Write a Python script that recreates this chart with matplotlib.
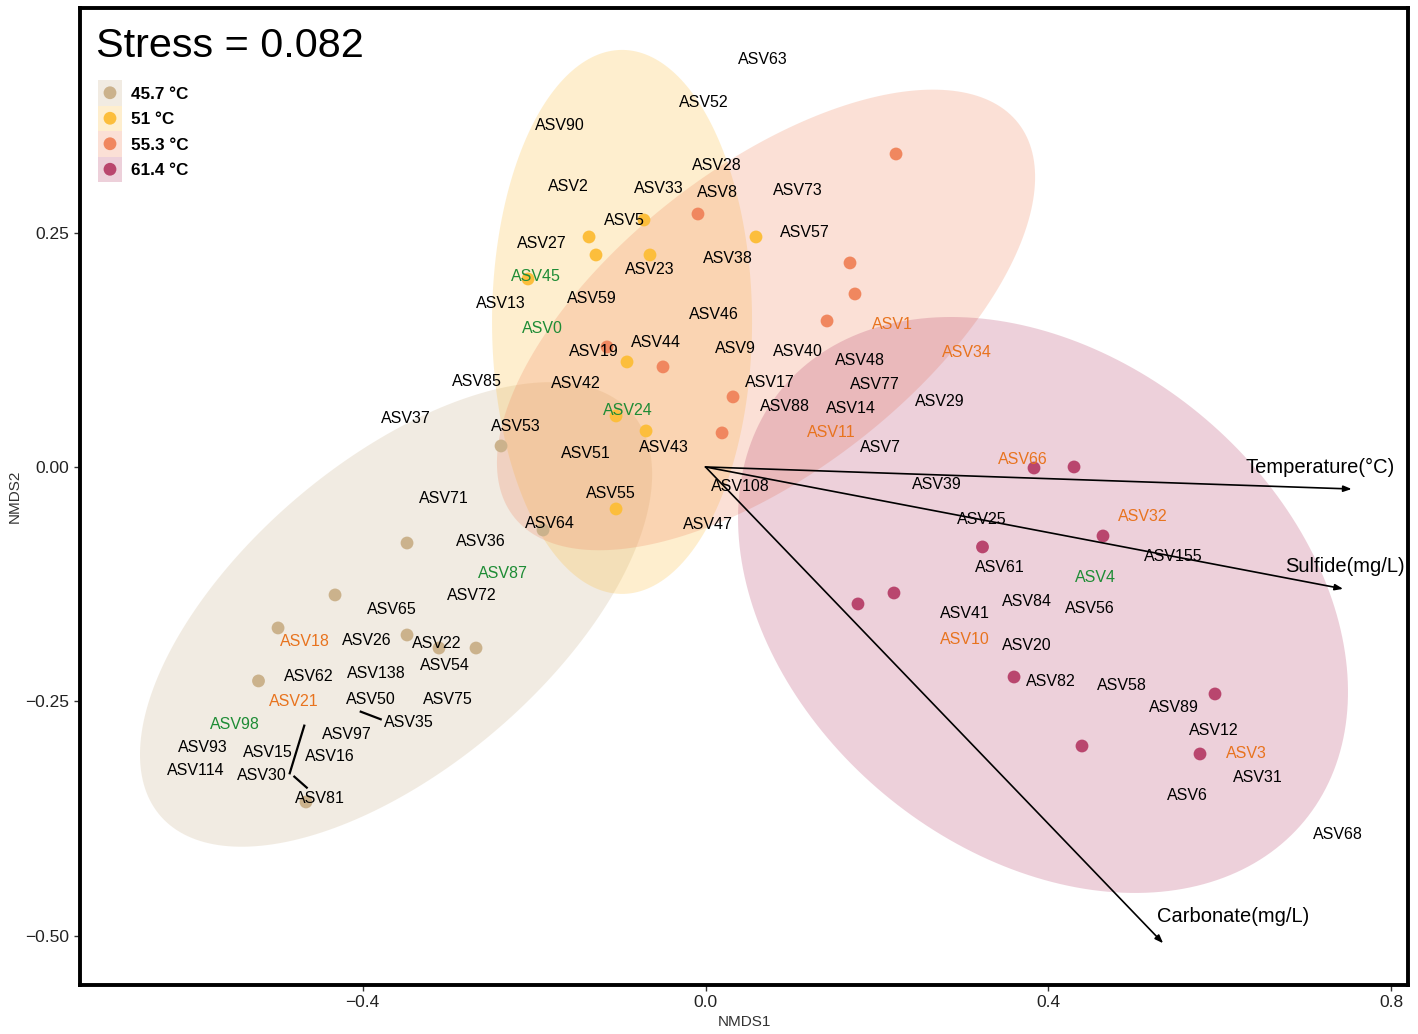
import numpy as np
import matplotlib
matplotlib.use("Agg")
import matplotlib.pyplot as plt
from matplotlib.patches import Rectangle, Polygon

plt.rcParams['font.family'] = ['Liberation Sans', 'DejaVu Sans']

# groups (temperature) and colours
groups = ['45.7 °C', '51 °C', '55.3 °C', '61.4 °C']
group_colours = ['#CBB28C', '#FCBE3C', '#F0875F', '#B9466E']

# sample scores
x_457 = [-0.2386, -0.1896, -0.3483, -0.4323, -0.4988, -0.3483, -0.3110, -0.2678, -0.5216, -0.4662]
y_457 = [0.0224, -0.0672, -0.0811, -0.1365, -0.1717, -0.1792, -0.1931, -0.1931, -0.2282, -0.3573]
x_51 = [-0.0718, -0.1359, -0.1278, -0.0648, 0.0589, -0.2071, -0.0916, -0.1044, -0.0694, -0.1044]
y_51 = [0.2634, 0.2453, 0.2261, 0.2261, 0.2453, 0.2005, 0.1120, 0.0544, 0.0384, -0.0448]
x_553 = [-0.0088, 0.1686, 0.1744, 0.1418, 0.2223, -0.1149, -0.0496, 0.0321, 0.0193]
y_553 = [0.2698, 0.2176, 0.1845, 0.1557, 0.3338, 0.1280, 0.1067, 0.0747, 0.0363]
x_614 = [0.3833, 0.4300, 0.4638, 0.3232, 0.1779, 0.2199, 0.3600, 0.5945, 0.4393, 0.5770]
y_614 = [-0.0011, 0.0000, -0.0736, -0.0853, -0.1461, -0.1344, -0.2240, -0.2421, -0.2976, -0.3061]

# ellipse centres and semi-axis vectors (data units)
ell_centre = [(-0.3611, -0.1573), (-0.0974, 0.1547), (0.0706, 0.1568), (0.3938, -0.1472)]
ell_axis_a = [(0.2755, 0.2143), (0.0, 0.2901), (0.2945, 0.2097), (0.3048, -0.2305)]
ell_axis_b = [(0.1157, -0.1243), (0.1517, 0.0), (0.1089, -0.1279), (-0.1837, -0.2030)]

# species labels: k = black, o = orange, g = green
asv_names = ['ASV63', 'ASV52', 'ASV90', 'ASV28', 'ASV2', 'ASV33', 'ASV8', 'ASV73', 'ASV5', 'ASV57',
             'ASV27', 'ASV38', 'ASV23', 'ASV45', 'ASV13', 'ASV59', 'ASV46', 'ASV0', 'ASV1', 'ASV44',
             'ASV19', 'ASV9', 'ASV40', 'ASV34', 'ASV48', 'ASV85', 'ASV42', 'ASV17', 'ASV77', 'ASV29',
             'ASV88', 'ASV14', 'ASV24', 'ASV37', 'ASV53', 'ASV11', 'ASV51', 'ASV43', 'ASV7', 'ASV66',
             'ASV39', 'ASV108', 'ASV55', 'ASV71', 'ASV25', 'ASV32', 'ASV47', 'ASV64', 'ASV36', 'ASV155',
             'ASV61', 'ASV87', 'ASV4', 'ASV72', 'ASV84', 'ASV56', 'ASV65', 'ASV41', 'ASV18', 'ASV26',
             'ASV22', 'ASV10', 'ASV20', 'ASV54', 'ASV62', 'ASV138', 'ASV82', 'ASV58', 'ASV21', 'ASV50',
             'ASV75', 'ASV89', 'ASV35', 'ASV98', 'ASV97', 'ASV12', 'ASV93', 'ASV15', 'ASV16', 'ASV3',
             'ASV114', 'ASV30', 'ASV31', 'ASV81', 'ASV6', 'ASV68']
asv_x = [0.0671, -0.0018, -0.1698, 0.0134, -0.1604, -0.0543, 0.0134, 0.1079, -0.0951, 0.1161,
         -0.1908, 0.0263, -0.0648, -0.1978, -0.2386, -0.1324, 0.0099, -0.1908, 0.2176, -0.0578,
         -0.1301, 0.0344, 0.1079, 0.3051, 0.1803, -0.2666, -0.1511, 0.0753, 0.1978, 0.2736,
         0.0928, 0.1698, -0.0904, -0.3495, -0.2211, 0.1470, -0.1394, -0.0484, 0.2036, 0.3705,
         0.2701, 0.0403, -0.1103, -0.3051, 0.3226, 0.5105, 0.0029, -0.1814, -0.2620, 0.5455,
         0.3436, -0.2363, 0.4545, -0.2725, 0.3751, 0.4486, -0.3658, 0.3028, -0.4673, -0.3950,
         -0.3133, 0.3028, 0.3751, -0.3040, -0.4627, -0.3845, 0.4031, 0.4860, -0.4802, -0.3903,
         -0.3005, 0.5461, -0.3460, -0.5490, -0.4183, 0.5934, -0.5864, -0.5105, -0.4382, 0.6307,
         -0.5945, -0.5175, 0.6447, -0.4498, 0.5619, 0.7380]
asv_y = [0.4362, 0.3904, 0.3658, 0.3232, 0.3008, 0.2986, 0.2938, 0.2965, 0.2645, 0.2517,
         0.2400, 0.2240, 0.2122, 0.2048, 0.1760, 0.1813, 0.1643, 0.1493, 0.1536, 0.1344,
         0.1248, 0.1280, 0.1248, 0.1237, 0.1152, 0.0928, 0.0907, 0.0917, 0.0896, 0.0715,
         0.0661, 0.0640, 0.0619, 0.0533, 0.0448, 0.0384, 0.0160, 0.0224, 0.0224, 0.0096,
         -0.0171, -0.0192, -0.0267, -0.0320, -0.0544, -0.0512, -0.0597, -0.0587, -0.0779, -0.0939,
         -0.1056, -0.1120, -0.1163, -0.1355, -0.1419, -0.1493, -0.1504, -0.1547, -0.1845, -0.1834,
         -0.1866, -0.1824, -0.1888, -0.2101, -0.2218, -0.2186, -0.2272, -0.2314, -0.2485, -0.2464,
         -0.2464, -0.2549, -0.2709, -0.2730, -0.2837, -0.2794, -0.2976, -0.3029, -0.3072, -0.3040,
         -0.3221, -0.3274, -0.3296, -0.3520, -0.3488, -0.3904]
asv_class = ['k', 'k', 'k', 'k', 'k', 'k', 'k', 'k', 'k', 'k',
             'k', 'k', 'k', 'g', 'k', 'k', 'k', 'g', 'o', 'k',
             'k', 'k', 'k', 'o', 'k', 'k', 'k', 'k', 'k', 'k',
             'k', 'k', 'g', 'k', 'k', 'o', 'k', 'k', 'k', 'o',
             'k', 'k', 'k', 'k', 'k', 'o', 'k', 'k', 'k', 'k',
             'k', 'g', 'g', 'k', 'k', 'k', 'k', 'k', 'o', 'k',
             'k', 'o', 'k', 'k', 'k', 'k', 'k', 'k', 'o', 'k',
             'k', 'k', 'k', 'g', 'k', 'k', 'k', 'k', 'k', 'o',
             'k', 'k', 'k', 'k', 'k', 'k']
class_colours = {'k': 'black', 'o': '#E8731E', 'g': '#1E8C35'}

# repel segments
seg_x0 = [-0.4682, -0.4798, -0.4023]
seg_y0 = [-0.2759, -0.3303, -0.2610]
seg_x1 = [-0.4852, -0.4653, -0.3790]
seg_y1 = [-0.3267, -0.3420, -0.2691]

# environmental vectors
env_names = ['Temperature(°C)', 'Sulfide(mg/L)', 'Carbonate(mg/L)']
env_x = [0.754, 0.744, 0.534]
env_y = [-0.0235, -0.130, -0.508]
env_lab_x = [0.717, 0.7462, 0.6155]
env_lab_y = [0.0021, -0.1035, -0.4768]

site_x = [x_457, x_51, x_553, x_614]
site_y = [y_457, y_51, y_553, y_614]

fig = plt.figure(figsize=(14.18, 10.34), dpi=100)
ax = fig.add_axes([80 / 1418, 1 - 985 / 1034, 1328 / 1418, 977 / 1034])

t = np.linspace(0, 2 * np.pi, 240)
for i, col in enumerate(group_colours):
    cx, cy = ell_centre[i]
    ax_, ay_ = ell_axis_a[i]
    bx_, by_ = ell_axis_b[i]
    ex = cx + np.cos(t) * ax_ + np.sin(t) * bx_
    ey = cy + np.cos(t) * ay_ + np.sin(t) * by_
    ax.add_patch(Polygon(np.column_stack([ex, ey]), closed=True, facecolor=col,
                         edgecolor='none', alpha=0.25, zorder=1))

for i, col in enumerate(group_colours):
    ax.scatter(site_x[i], site_y[i], s=85, color=col, edgecolors='none', zorder=3)

for x0, y0, x1, y1 in zip(seg_x0, seg_y0, seg_x1, seg_y1):
    ax.plot([x0, x1], [y0, y1], color='black', lw=1.6, zorder=4)

for name, x, y, c in zip(asv_names, asv_x, asv_y, asv_class):
    ax.text(x, y, name, ha='center', va='center_baseline', fontsize=11.5,
            color=class_colours[c], zorder=5)

for name, x, y, lx, ly in zip(env_names, env_x, env_y, env_lab_x, env_lab_y):
    ax.annotate('', xy=(x, y), xytext=(0, 0),
                arrowprops=dict(arrowstyle='-|>,head_length=0.4,head_width=0.15',
                                color='black', lw=1.2, shrinkA=0, shrinkB=0,
                                mutation_scale=12), zorder=6)
    ax.text(lx, ly, name, ha='center', va='center_baseline', fontsize=14.5, zorder=6)

# stress text and legend
ax.text(0.012, 0.9498, 'Stress = 0.082', transform=ax.transAxes, fontsize=29.8,
        va='baseline', ha='left')
kw, kh = 24 / 1328, 25.5 / 977
for i, (g, col) in enumerate(zip(groups, group_colours)):
    top = 0.9263 - i * kh
    ax.add_patch(Rectangle((0.01355, top - kh), kw, kh, transform=ax.transAxes,
                           facecolor=col, alpha=0.25, edgecolor='none', clip_on=False))
    ax.scatter([0.01355 + kw / 2], [top - kh / 2], s=85, color=col, edgecolors='none',
               transform=ax.transAxes, clip_on=False, zorder=3)
    ax.text(0.0384, top - kh / 2, g, transform=ax.transAxes, fontsize=12.3,
            fontweight='bold', va='center_baseline', ha='left')

ax.set_xlim(-0.7299, 0.8197)
ax.set_ylim(-0.5525, 0.4895)
ax.set_xticks([-0.4, 0.0, 0.4, 0.8])
ax.set_xticklabels(['\u22120.4', '0.0', '0.4', '0.8'])
ax.set_yticks([-0.5, -0.25, 0.0, 0.25])
ax.set_yticklabels(['\u22120.50', '\u22120.25', '0.00', '0.25'])
ax.set_xticks([-0.6, -0.2, 0.2, 0.6], minor=True)
ax.set_yticks([-0.375, -0.125, 0.125, 0.375], minor=True)
ax.tick_params(which='major', direction='out', length=4, width=1, color='#333333',
               labelsize=12.5, labelcolor='#222222')
ax.tick_params(which='minor', direction='inout', length=7, width=1, color='white',
               top=True, right=True)
for sp in ax.spines.values():
    sp.set_linewidth(2.8)
ax.set_xlabel('NMDS1', fontsize=11, color='#333333', labelpad=3)
ax.set_ylabel('NMDS2', fontsize=11, color='#333333', labelpad=3)

fig.savefig('out.png', dpi=100)
